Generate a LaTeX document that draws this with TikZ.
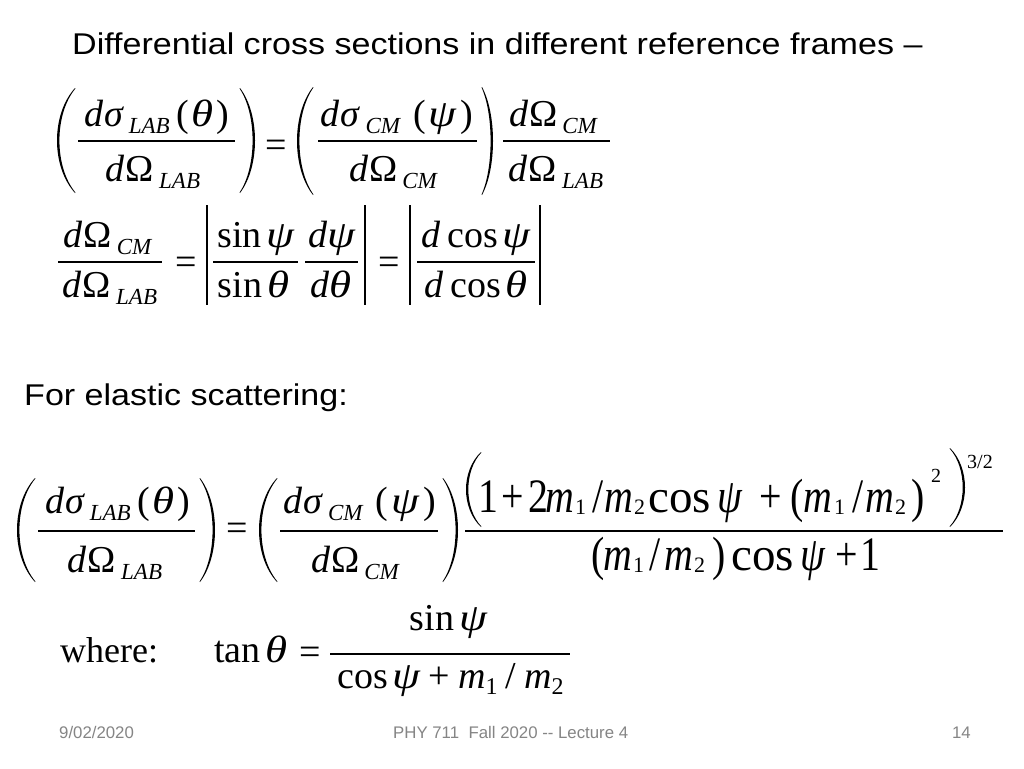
\documentclass[tikz,border=0pt]{standalone}
\usepackage{fontspec}
\setmainfont{Liberation Serif}
\setsansfont{Liberation Sans}
\newfontfamily\ttlfont{Liberation Sans}[FakeStretch=1.135]
\newfontfamily\grk{Liberation Serif}[FakeStretch=1.18]
\newfontfamily\bigf{Liberation Serif}[FakeStretch=0.83]
% subscripts
\newcommand{\Sb}[1]{\raisebox{-7.5pt}{\fontsize{23}{23}\selectfont\itshape #1}}
\newcommand{\Sd}[2]{\raisebox{-#1pt}{\fontsize{24}{24}\selectfont\upshape #2}}
\newcommand{\gth}{{\grk\itshape θ}}
\newcommand{\gps}{{\grk\itshape ψ}}
\newcommand{\dsig}[1]{{\itshape d\kern1ptσ\kern6pt\Sb{#1}}}
\newcommand{\dOm}[1]{{\itshape d}\kern1ptΩ\kern5pt\Sb{#1}}
% parenthesis shape: #1 extreme x, #2 end x, #3 top y, #4 bottom y, #5 signed thickness
\newcommand{\parenshape}[5]{%
  \fill ({#2},{#3}) .. controls ({(4*#1-#2)/3},{#3+(#4-#3)/4}) and ({(4*#1-#2)/3},{#4-(#4-#3)/4}) .. ({#2},{#4})
   -- ({#2+0.2*#5},{#4-0.5}) .. controls ({(4*#1-#2)/3+4*#5/3},{#4-(#4-#3)/4}) and ({(4*#1-#2)/3+4*#5/3},{#3+(#4-#3)/4}) .. ({#2+0.2*#5},{#3+0.5}) -- cycle;}
\begin{document}
\begin{tikzpicture}[x=1pt,y=-1pt]
\tikzset{
  ttl/.style={font=\ttlfont\fontsize{30}{34}\selectfont, anchor=base west, inner sep=0pt},
  mt/.style={font=\fontsize{38}{40}\selectfont, anchor=base, inner sep=0pt},
  mtw/.style={mt, anchor=base west},
  mb/.style={font=\bigf\fontsize{48}{50}\selectfont, anchor=base west, inner sep=0pt},
  mbw/.style={font=\fontsize{47}{50}\selectfont, anchor=base west, inner sep=0pt},
  sbx/.style={font=\fontsize{22}{24}\selectfont, anchor=base west, inner sep=0pt},
  supx/.style={font=\fontsize{20}{22}\selectfont, anchor=base west, inner sep=0pt},
  foot/.style={font=\sffamily\fontsize{16.8}{19}\selectfont, text=black!48, inner sep=0pt},
  fbar/.style={line width=1.8pt},
  vbar/.style={line width=1.7pt}
}
\useasboundingbox[fill=white] (0,0) rectangle (1024,768);
% ---------- title
\node[ttl] (title) at (72,55) {Differential cross sections in different reference frames –};
% ---------- equation 1
\parenshape{57}{75}{88}{193}{2.3}
\draw[fbar] (78,141) -- (235,141);
\node[mt] (e1na) at (156.5,126) {\dsig{LAB}\kern7pt(\kern2pt\gth\kern3pt)};
\node[mt] (e1da) at (153,181) {\dOm{LAB}};
\parenshape{255}{240}{88}{193}{-2.3}
\node[mt] (e1eq) at (276.5,157) {=};
\parenshape{297}{313}{87}{195}{2.3}
\draw[fbar] (318,141) -- (477,141);
\node[mt] (e1nb) at (397,126) {\dsig{CM}\kern13pt(\kern3pt\gps\kern4pt)};
\node[mt] (e1db) at (393,181) {\dOm{CM}};
\parenshape{493}{482}{87}{195}{-2.3}
\draw[fbar] (503,141) -- (610,141);
\node[mt] (e1nc) at (553,126) {\dOm{CM}};
\node[mt] (e1dc) at (556,181) {\dOm{LAB}};
% ---------- equation 2
\draw[fbar] (58,262) -- (162,262);
\node[mt] (e2na) at (107.5,247) {\dOm{CM}};
\node[mt] (e2da) at (110,297) {\dOm{LAB}};
\node[mt] (e2eqa) at (186,274) {=};
\draw[vbar] (206.7,205) -- (206.7,305);
\draw[fbar] (213,262) -- (298,262);
\node[mt] (e2nb) at (256,247) {sin\kern5pt\gps};
\node[mt] (e2db) at (253.5,297) {sin\kern5pt\gth};
\draw[fbar] (305,262) -- (358,262);
\node[mt] (e2nc) at (332,247) {{\itshape d}\gps};
\node[mt] (e2dc) at (331.5,297) {{\itshape d}\gth};
\draw[vbar] (365,205) -- (365,305);
\node[mt] (e2eqb) at (389,274) {=};
\draw[vbar] (410,205) -- (410,305);
\draw[fbar] (417,262) -- (535,262);
\node[mt] (e2nd) at (476,247) {{\itshape d}\kern7pt cos\kern5pt\gps};
\node[mt] (e2dd) at (476,297) {{\itshape d}\kern7pt cos\kern5pt\gth};
\draw[vbar] (540,205) -- (540,305);
% ---------- for elastic scattering
\node[ttl] (elastic) at (24,405) {For elastic scattering:};
% ---------- equation 3
\parenshape{17}{35}{478}{582}{2.3}
\draw[fbar] (38,531) -- (195,531);
\node[mt] (e3na) at (117.5,513) {\dsig{LAB}\kern7pt(\kern2pt\gth\kern3pt)};
\node[mt] (e3da) at (115,572) {\dOm{LAB}};
\parenshape{215}{200}{478}{582}{-2.3}
\node[mt] (e3eq) at (237.5,540) {=};
\parenshape{259}{277}{478}{582}{2.3}
\draw[fbar] (280,531) -- (438,531);
\node[mt] (e3nb) at (359.5,513) {\dsig{CM}\kern13pt(\kern3pt\gps\kern4pt)};
\node[mt] (e3db) at (355,572) {\dOm{CM}};
\parenshape{458}{443}{478}{582}{-2.3}
% big fraction
\draw[fbar] (465,531) -- (1003,531);
\parenshape{466}{481}{452}{527}{2.2}
\node[mb] (n1) at (478,512) {1};
\node[mb] (np1) at (501,512) {+};
\node[mb] (n2) at (528,512) {2};
\node[mb] (nm1) at (545,512) {\itshape m};
\node[sbx] (ns1) at (575,514) {1};
\node[mb] (nsl1) at (592,512) {/};
\node[mb] (nm2) at (604,512) {\itshape m};
\node[sbx] (ns2) at (634,514) {2};
\node[mbw] (ncos) at (648,512) {cos};
\node[mb] (npsi) at (717,512) {\itshape ψ};
\node[mb] (np2) at (759,512) {+};
\node[mb] (nlp) at (790,512) {(};
\node[mb] (nm3) at (803,512) {\itshape m};
\node[sbx] (ns3) at (834,514) {1};
\node[mb] (nsl2) at (852,512) {/};
\node[mb] (nm4) at (865,512) {\itshape m};
\node[sbx] (ns4) at (895,514) {2};
\node[mb] (nrp) at (911,512) {)};
\node[supx] (nsq) at (931,482) {2};
\parenshape{965}{950}{448}{527}{-2.2}
\node[supx] (npow) at (967,468) {3/2};
\node[mb] (dlp) at (591,570) {(};
\node[mb] (dm1) at (603,570) {\itshape m};
\node[sbx] (ds1) at (633,572) {1};
\node[mb] (dsl) at (649,570) {/};
\node[mb] (dm2) at (664,570) {\itshape m};
\node[sbx] (ds2) at (694,572) {2};
\node[mb] (drp) at (712,570) {)};
\node[mbw] (dcos) at (731,570) {cos};
\node[mb] (dpsi) at (800,570) {\itshape ψ};
\node[mb] (dplus) at (835,570) {+};
\node[mb] (done) at (860,570) {1};
% ---------- equation 4
\node[mtw, font=\fontsize{36}{38}\selectfont] (where) at (60,662.5) {where:};
\node[mtw] (tan) at (214,662.5) {tan\kern5pt\gth};
\node[mt] (e4eq) at (310,664) {=};
\draw[fbar] (330,654) -- (570,654);
\node[mt] (e4n) at (448.5,630) {sin\kern5pt\gps};
\node[mt] (e4d) at (450.5,688) {cos\kern5pt\gps\kern8pt+\kern8pt{\itshape m}\Sd{6}{1}\kern8pt/\kern8pt{\itshape m}\Sd{6}{2}};
% ---------- footer
\node[foot, anchor=base west] (date) at (59,738) {9/02/2020};
\node[foot, anchor=base west] (course) at (393,738) {PHY 711\ \ Fall 2020 -{}- Lecture 4};
\node[foot, anchor=base east] (page) at (971,738) {14};
\end{tikzpicture}
\end{document}
